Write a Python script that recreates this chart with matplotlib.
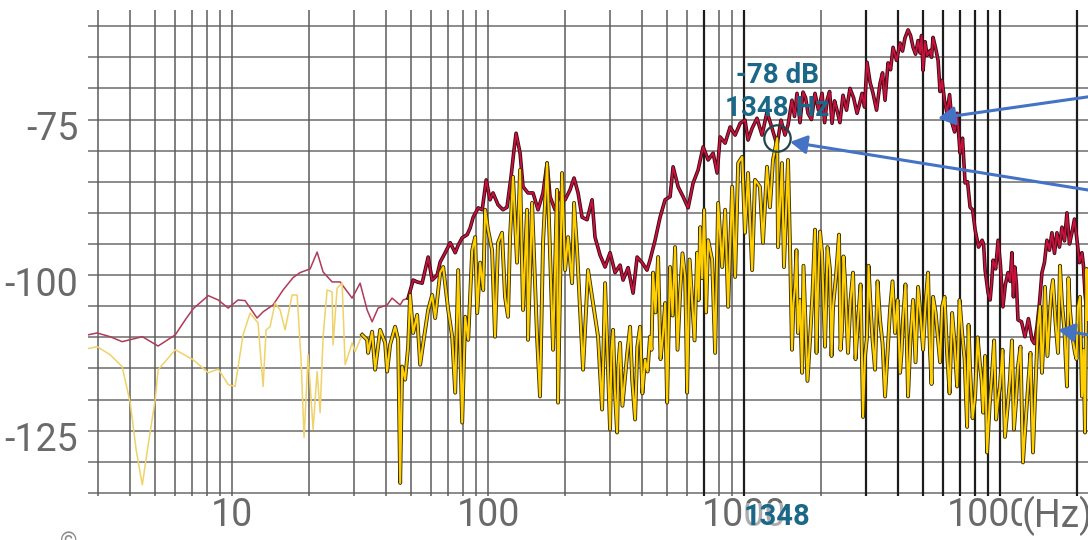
import matplotlib
matplotlib.use("Agg")
import matplotlib.pyplot as plt
import matplotlib.patheffects as pe
from matplotlib.transforms import ScaledTranslation

plt.rcParams['font.family'] = ['Roboto', 'DejaVu Sans']

# Upper spectrum (red), Hz / dB
red_freq = [2.74, 2.97, 3.34, 3.72, 4.46, 5.14, 6.00, 6.56, 7.05, 8.07,
            8.83, 9.66, 10.55, 11.24, 12.52, 13.22, 14.46, 15.82, 17.31, 18.44,
            20.18, 21.49, 22.68, 24.59, 26.43, 29.44, 31.64, 33.70, 35.25, 37.20,
            40.35, 42.17, 45.36, 46.60, 48.74, 50.98, 52.85, 55.28, 58.35, 60.49,
            63.28, 65.02, 68.02, 71.15, 74.42, 76.44, 79.25, 82.90, 85.19, 87.50,
            91.53, 94.89, 98.37, 101.8, 104.6, 109.4, 114.4, 118.6, 123.0, 126.3,
            128.7, 133.4, 137.0, 143.3, 149.9, 156.8, 164.0, 170.1, 174.7, 182.7,
            191.1, 200.0, 209.1, 216.8, 224.8, 233.0, 243.7, 254.9, 261.8, 274.0,
            286.6, 299.7, 313.5, 328.0, 337.0, 352.5, 368.7, 382.3, 399.9, 417.9,
            429.3, 449.4, 470.1, 491.7, 514.3, 528.5, 552.8, 578.3, 604.9, 632.8,
            661.9, 692.4, 724.3, 757.6, 785.4, 806.8, 843.9, 882.8, 923.4, 966.0,
            1009, 1037, 1076, 1124, 1176, 1230, 1287, 1346, 1395, 1446,
            1486, 1540, 1575, 1611, 1655, 1701, 1740, 1779, 1835, 1894,
            1955, 2018, 2065, 2111, 2160, 2208, 2258, 2309, 2370, 2437,
            2515, 2595, 2680, 2765, 2828, 2892, 2958, 3025, 3108, 3193,
            3295, 3400, 3478, 3557, 3654, 3738, 3823, 3945, 4071, 4163,
            4255, 4375, 4475, 4577, 4680, 4788, 4874, 4940, 5008, 5100,
            5191, 5333, 5405, 5479, 5605, 5732, 5835, 5942, 6075, 6215,
            6355, 6502, 6650, 6802, 6987, 7140, 7308, 7470, 7644, 7820,
            7996, 8250, 8519, 8630, 8750, 8990, 9153, 9270, 9404, 9620,
            9837, 10050, 10270, 10500, 10750, 10950, 11140, 11290, 11440, 11600,
            11760, 12140, 12520, 12920, 13340, 13640, 13950, 14270, 14590, 14920,
            15260, 15610, 15960, 16330, 16700, 17080, 17470, 17870, 18270, 18690,
            19110, 19550, 20000, 20450, 20910, 21200, 21490, 21780, 22080]
red_db = [-109.6, -109.3, -109.9, -110.7, -109.9, -111.4, -109.6, -107.2, -105.4, -103.3,
          -104.0, -105.3, -104.0, -104.1, -106.9, -105.9, -104.8, -102.4, -100.4, -99.6,
          -99.0, -96.3, -99.5, -101.1, -101.1, -103.7, -101.3, -105.6, -107.5, -105.3,
          -104.8, -103.7, -104.8, -104.0, -103.7, -100.8, -101.1, -101.3, -97.1, -100.8,
          -100.0, -97.9, -96.4, -94.8, -96.4, -95.2, -94.0, -93.5, -92.4, -90.7,
          -89.2, -89.5, -84.7, -87.9, -86.8, -88.7, -89.5, -89.1, -84.2, -79.9,
          -77.2, -80.4, -85.8, -86.8, -86.8, -89.5, -86.8, -82.0, -87.4, -89.5,
          -86.8, -87.9, -86.3, -84.4, -86.8, -90.7, -91.1, -87.9, -93.9, -96.8,
          -98.7, -96.4, -99.6, -98.4, -100.8, -98.8, -102.9, -97.1, -98.0, -99.2,
          -97.6, -94.4, -90.7, -87.9, -87.4, -82.6, -85.8, -87.4, -89.2, -85.2,
          -83.1, -79.4, -81.5, -80.4, -83.6, -77.8, -78.8, -76.2, -77.5, -75.6,
          -75.1, -78.3, -76.4, -74.8, -77.5, -73.8, -76.4, -79.1, -75.1, -77.5,
          -75.9, -71.9, -74.5, -70.8, -75.5, -70.6, -71.5, -74.0, -75.0, -70.8,
          -73.5, -70.8, -75.5, -71.9, -70.5, -75.6, -72.0, -73.5, -75.5, -71.1,
          -73.5, -70.0, -71.5, -74.0, -72.5, -70.8, -73.0, -65.8, -69.0, -70.8,
          -73.5, -69.2, -67.5, -71.9, -65.9, -67.0, -63.4, -65.5, -62.7, -64.0,
          -61.9, -60.6, -61.5, -63.4, -64.5, -62.3, -64.3, -61.5, -67.1, -62.5,
          -64.7, -63.9, -65.0, -61.8, -63.5, -65.5, -70.5, -68.7, -72.0, -74.0,
          -71.0, -75.6, -77.0, -74.0, -80.4, -78.0, -85.2, -85.0, -89.1, -89.5,
          -92.7, -95.5, -94.4, -95.0, -99.2, -102.9, -104.0, -101.5, -97.6, -99.0,
          -94.4, -98.5, -105.1, -101.5, -99.6, -101.0, -96.4, -103.5, -98.7, -101.5,
          -107.2, -107.5, -109.9, -107.0, -110.4, -111.0, -108.3, -104.5, -99.6, -98.0,
          -94.4, -96.0, -93.2, -96.5, -93.2, -95.5, -92.3, -94.5, -90.0, -95.0,
          -93.2, -91.0, -94.4, -98.0, -96.4, -98.5, -102.9, -105.5, -99.6]

# Lower spectrum (yellow), Hz / dB
yel_freq = [2.74, 2.97, 3.34, 3.72, 4.00, 4.22, 4.46, 4.70, 5.01, 5.14,
            6.00, 7.05, 8.07, 8.83, 9.66, 10.27, 11.04, 11.76, 12.63, 13.22,
            13.58, 14.07, 14.72, 15.40, 16.11, 17.16, 17.95, 18.60, 19.11, 19.82,
            20.73, 21.49, 22.08, 22.68, 23.51, 24.59, 24.81, 25.72, 26.91, 27.65,
            29.44, 30.25, 32.22, 33.70, 34.00, 35.25, 36.21, 37.88, 39.63, 40.35,
            41.44, 43.35, 44.55, 45.36, 46.18, 47.43, 48.74, 49.60, 50.98, 52.85,
            54.30, 56.28, 58.35, 60.49, 62.15, 65.02, 66.80, 69.87, 72.43, 74.42,
            76.44, 79.25, 81.41, 83.65, 86.72, 89.06, 90.71, 93.16, 95.75, 97.45,
            100.0, 103.7, 106.5, 109.4, 113.4, 116.5, 119.7, 121.9, 125.2, 129.8,
            133.4, 137.0, 142.0, 143.3, 148.6, 155.4, 159.6, 164.0, 170.1, 174.7,
            179.5, 186.0, 187.7, 194.6, 200.0, 205.4, 213.0, 216.8, 222.8, 235.1,
            245.9, 254.9, 261.8, 269.1, 279.0, 286.6, 299.7, 303.5, 308.0, 313.0,
            319.3, 323.0, 328.0, 335.0, 343.1, 350.0, 358.9, 366.0, 375.4, 383.0,
            392.7, 401.0, 410.7, 420.0, 429.3, 435.0, 441.5, 451.0, 461.8, 472.0,
            483.0, 492.0, 500.8, 507.0, 514.3, 526.0, 538.0, 550.0, 562.8, 575.0,
            588.8, 594.0, 599.5, 613.0, 627.1, 641.0, 656.0, 665.0, 674.1, 686.0,
            698.7, 711.0, 724.3, 750.9, 771.3, 792.5, 821.5, 843.9, 867.2, 899.0,
            923.4, 948.9, 983.7, 1009, 1037, 1076, 1104, 1154, 1186, 1230,
            1263, 1298, 1348, 1358, 1407, 1433, 1486, 1513, 1540, 1560,
            1582, 1603, 1625, 1655, 1686, 1708, 1731, 1770, 1811, 1852,
            1894, 1920, 1946, 1982, 2018, 2045, 2073, 2120, 2168, 2198,
            2228, 2290, 2351, 2383, 2415, 2448, 2481, 2515, 2549, 2608,
            2667, 2728, 2790, 2855, 2918, 2970, 3025, 3066, 3108, 3180,
            3251, 3325, 3400, 3478, 3557, 3638, 3720, 3805, 3892, 3980,
            4071, 4125, 4179, 4275, 4375, 4475, 4577, 4680, 4788, 4895,
            5008, 5120, 5238, 5285, 5333, 5405, 5479, 5605, 5732, 5835,
            5942, 6075, 6215, 6355, 6502, 6650, 6802, 6955, 7115, 7275,
            7442, 7540, 7644, 7820, 7996, 8180, 8365, 8480, 8595, 8750,
            8906, 9110, 9316, 9490, 9660, 9830, 10000, 10230, 10460, 10700,
            10940, 11140, 11340, 11550, 11760, 12030, 12300, 12580, 12870, 13160,
            13460, 13760, 14070, 14330, 14590, 14790, 14990, 15330, 15680, 15890,
            16110, 16480, 16860, 17160, 17470, 17870, 18270, 18520, 18770, 19200,
            19640, 19910, 20180, 20540, 20910, 21200, 21490, 21780, 22080]
yel_db = [-111.8, -111.5, -112.8, -114.7, -120.5, -128.1, -133.7, -127.3, -120.0, -115.2,
          -112.0, -113.6, -115.7, -115.1, -117.6, -117.9, -109.6, -106.1, -107.7, -117.9,
          -108.8, -108.3, -104.5, -105.6, -108.8, -103.2, -103.2, -113.6, -126.1, -112.8,
          -124.8, -115.5, -122.1, -109.9, -102.4, -102.7, -111.2, -102.1, -101.3, -114.4,
          -110.9, -112.3, -109.6, -110.4, -112.5, -109.1, -115.2, -108.8, -110.9, -115.5,
          -111.2, -108.3, -110.4, -133.4, -114.7, -116.8, -111.5, -103.2, -109.3, -106.4,
          -114.4, -109.9, -105.6, -103.2, -106.9, -99.6, -98.7, -105.6, -109.9, -118.9,
          -99.2, -123.7, -106.7, -110.4, -96.0, -93.9, -106.1, -98.0, -102.4, -89.5,
          -92.7, -96.0, -109.9, -94.8, -93.2, -103.5, -106.7, -93.9, -84.2, -98.0,
          -83.1, -105.6, -89.5, -110.4, -88.4, -109.9, -119.5, -94.8, -82.0, -96.4,
          -112.0, -86.3, -120.5, -83.6, -99.2, -93.9, -101.3, -88.4, -96.0, -115.2,
          -99.2, -103.5, -106.7, -109.9, -121.6, -101.3, -124.8, -112.0, -108.8, -118.5,
          -125.3, -114.5, -110.9, -121.0, -116.3, -112.5, -108.3, -117.0, -123.2, -111.5,
          -108.3, -119.0, -113.6, -115.5, -109.9, -112.0, -99.6, -106.0, -97.1, -113.5,
          -109.3, -104.5, -120.5, -110.0, -98.7, -106.5, -95.5, -112.0, -102.9, -96.5,
          -100.3, -108.0, -118.9, -97.5, -104.0, -110.5, -96.4, -104.0, -92.3, -100.5,
          -89.5, -106.0, -94.4, -97.6, -112.5, -88.4, -98.7, -89.5, -105.1, -85.8,
          -100.3, -82.0, -81.0, -93.2, -83.6, -99.2, -84.7, -85.8, -94.8, -82.6,
          -89.1, -81.5, -78.0, -95.5, -82.0, -98.7, -81.5, -95.5, -112.0, -104.5,
          -101.9, -96.0, -109.3, -104.0, -115.7, -98.5, -105.6, -117.0, -110.4, -103.0,
          -92.7, -112.5, -101.9, -93.0, -96.4, -104.5, -111.5, -95.5, -99.2, -113.0,
          -105.1, -100.0, -93.5, -112.0, -108.8, -97.0, -100.8, -106.5, -112.5, -104.0,
          -99.6, -113.5, -107.2, -101.5, -122.8, -113.0, -109.9, -98.5, -103.5, -110.5,
          -115.2, -101.0, -107.2, -111.0, -119.5, -112.5, -105.6, -101.0, -109.3, -104.0,
          -115.7, -112.5, -107.2, -101.5, -119.5, -110.0, -104.0, -114.0, -101.9, -106.5,
          -112.0, -104.5, -99.6, -107.0, -112.5, -117.5, -103.5, -106.0, -110.4, -114.0,
          -105.1, -103.5, -112.5, -119.0, -106.1, -111.0, -117.9, -104.0, -109.3, -113.5,
          -124.4, -108.0, -115.2, -123.0, -119.5, -110.0, -114.7, -117.0, -122.1, -113.0,
          -128.5, -121.0, -115.7, -110.5, -123.2, -120.0, -117.9, -112.0, -126.0, -121.5,
          -116.8, -110.5, -124.8, -120.5, -114.7, -111.5, -130.1, -124.0, -117.9, -112.5,
          -128.5, -118.0, -108.3, -105.0, -115.7, -110.5, -101.9, -113.0, -106.1, -102.5,
          -100.8, -107.5, -112.5, -98.5, -104.5, -109.0, -117.9, -100.5, -105.6, -110.0,
          -112.5, -113.5, -105.1, -103.5, -119.5, -112.0, -125.3, -99.0, -107.2]

# below these frequencies the traces are drawn thin and faded
red_faint_until = 47
yel_faint_until = 31

# cursor readout
peak_freq = 1348
peak_db = -78

# arrow tips (Hz, dB) and where the arrows come from (figure pixels)
arrow_tips = [(5730, -74.8), (1514, -78.6), (16870, -108.8)]
arrow_tails = [(1150, 452), (1150, 340), (1150, 195)]

x_ticks = [10, 100, 1000, 10000]
x_labels = ["10", "100", "1000", "10000"]
y_ticks = [-75, -100, -125]
y_labels = ["-75", "-100", "-125"]
h_grid = list(range(-135, -59, 5))
dark_vlines = [700, 1000, 3000, 4000, 5000, 6000, 7000, 8000, 9000, 10000, 20000]

fig = plt.figure(figsize=(10.88, 5.40), dpi=100)
ax = fig.add_axes([88 / 1088, 44 / 540, 1000 / 1088, 486 / 540])
ax.set_xscale("log")
ax.set_xlim(2.736, 22080)
ax.set_ylim(-135.5, -57.4)
for s in ax.spines.values():
    s.set_visible(False)

# grid
for y in h_grid:
    ax.axhline(y, color="#6c6c6c", lw=1.1, zorder=1)
for dec in [1, 10, 100, 1000, 10000]:
    for k in range(1, 10):
        f = k * dec
        if 2.736 < f < 22080:
            if f in dark_vlines:
                ax.axvline(f, color="#1c1c1c", lw=1.6, zorder=1)
            else:
                ax.axvline(f, color="#5c5c5c", lw=1.1, zorder=1)


def split(freq, vals, limit):
    i = next(n for n, f in enumerate(freq) if f > limit)
    return (freq[:i + 1], vals[:i + 1]), (freq[i:], vals[i:])


(rf_lo, rd_lo), (rf_hi, rd_hi) = split(red_freq, red_db, red_faint_until)
(yf_lo, yd_lo), (yf_hi, yd_hi) = split(yel_freq, yel_db, yel_faint_until)

ax.plot(rf_lo, rd_lo, color="#b03a58", lw=1.1, zorder=3)
ax.plot(rf_hi, rd_hi, color="#c8123e", lw=1.3, zorder=3,
        path_effects=[pe.Stroke(linewidth=2.6, foreground="#3e0a14"), pe.Normal()])
ax.plot(yf_lo, yd_lo, color="#efd268", lw=1.1, zorder=4)
ax.plot(yf_hi, yd_hi, color="#ffcf00", lw=1.5, zorder=4,
        path_effects=[pe.Stroke(linewidth=2.8, foreground="#3a3008"), pe.Normal()])

# cursor marker + readout
teal = "#1a6787"
ax.plot(peak_freq, peak_db, marker="o", ms=19, mfc="none", mec="#23444e", mew=1.6, zorder=6)
ax.annotate(f"{peak_db} dB", xy=(peak_freq, peak_db), xytext=(0, 63), textcoords="offset pixels",
            ha="center", va="center", fontsize=20, color=teal, fontweight="bold", zorder=7)
ax.annotate(f"{peak_freq} Hz", xy=(peak_freq, peak_db), xytext=(0, 30), textcoords="offset pixels",
            ha="center", va="center", fontsize=20, color=teal, fontweight="bold", zorder=7)

for tip, tail in zip(arrow_tips, arrow_tails):
    ax.annotate("", xy=tip, xytext=tail, textcoords="figure pixels", annotation_clip=False,
                arrowprops=dict(arrowstyle="-|>,head_length=0.5,head_width=0.28", color="#4472c4",
                                lw=2.2, mutation_scale=20, shrinkA=0, shrinkB=0), zorder=8)

# axis labels
ax.set_xticks(x_ticks, x_labels)
ax.minorticks_off()
ax.set_yticks(y_ticks, y_labels)
ax.tick_params(length=0, labelsize=27, labelcolor="#6a6a6a")
ax.tick_params(axis="x", pad=1)
ax.tick_params(axis="y", pad=7)
for lab in ax.get_yticklabels():
    lab.set_transform(lab.get_transform() + ScaledTranslation(0, -6 / 100, fig.dpi_scale_trans))

ax.text(0.934, -0.0, "(Hz)", transform=ax.transAxes, ha="left", va="top", fontsize=27,
        color="#6a6a6a", bbox=dict(facecolor="white", edgecolor="none", pad=0))
ax.annotate(str(peak_freq), xy=(peak_freq, 0), xycoords=ax.get_xaxis_transform(),
            xytext=(0, -21), textcoords="offset pixels", ha="center", va="center",
            fontsize=21, color=teal, fontweight="bold",
            bbox=dict(facecolor="white", edgecolor="none", alpha=0.45, pad=0))

fig.text(69 / 1088, -2 / 540, "\u00a9", ha="center", va="center", fontsize=16, color="#8a8a8a")

fig.savefig("out.png", dpi=100)
